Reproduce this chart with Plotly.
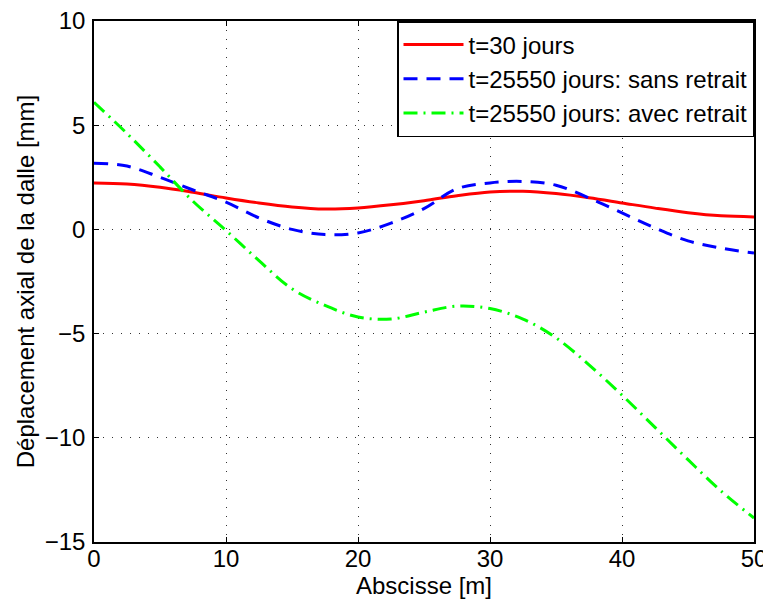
import plotly.graph_objects as go

# abscissa along the slab [m]
abscisse = [0, 2.5, 5, 7.5, 10, 12.5, 15, 17.5, 20, 22.5, 25,
            27.5, 30, 32.5, 35, 37.5, 40, 42.5, 45, 47.5, 50]

# axial displacement [mm]
t30 = [2.23, 2.18, 2.02, 1.78, 1.51, 1.27, 1.08, 0.98, 1.03, 1.18, 1.38,
       1.62, 1.80, 1.83, 1.72, 1.52, 1.27, 1.02, 0.80, 0.65, 0.60]
t25550_sans = [3.18, 3.04, 2.50, 1.89, 1.31, 0.55, 0.00, -0.25, -0.17, 0.30, 1.00,
               1.95, 2.23, 2.30, 2.12, 1.51, 0.79, 0.07, -0.55, -0.90, -1.13]
t25550_avec = [6.10, 4.60, 3.00, 1.35, -0.05, -1.50, -2.85, -3.65, -4.20, -4.30, -3.97,
               -3.68, -3.80, -4.30, -5.20, -6.50, -7.95, -9.50, -11.05, -12.55, -13.85]

x_ticks = [0, 10, 20, 30, 40, 50]
y_ticks = [-15, -10, -5, 0, 5, 10]

font_family = "Liberation Sans, Arial, sans-serif"
fsize = 24

fig = go.Figure()
fig.add_trace(go.Scatter(
    x=abscisse, y=t30, mode="lines", name="t=30 jours",
    line=dict(color="#ff0000", width=3, shape="spline"),
))
fig.add_trace(go.Scatter(
    x=abscisse, y=t25550_sans, mode="lines", name="t=25550 jours: sans retrait",
    line=dict(color="#0000ff", width=3, dash="14px,9px", shape="spline"),
))
fig.add_trace(go.Scatter(
    x=abscisse, y=t25550_avec, mode="lines", name="t=25550 jours: avec retrait",
    line=dict(color="#00ff00", width=3, dash="14px,6px,2px,6px", shape="spline"),
))

axis_style = dict(
    showline=True, linecolor="black", linewidth=1.5, mirror="allticks",
    ticks="inside", ticklen=5, tickcolor="black",
    showgrid=True, gridcolor="#333333", griddash="1px,8px", gridwidth=1,
    zeroline=False, automargin=False, ticklabeloverflow="allow",
    tickfont=dict(size=fsize, color="black", family=font_family),
)

fig.update_xaxes(
    range=[0, 50], tickvals=x_ticks, ticklabelstandoff=-6,
    title=dict(text="Abscisse [m]", font=dict(size=fsize, color="black", family=font_family),
               standoff=0),
    **axis_style,
)
fig.update_yaxes(
    range=[-15, 10], tickvals=y_ticks, ticklabelstandoff=2,
    title=dict(text="Déplacement axial de la dalle [mm]",
               font=dict(size=fsize, color="black", family=font_family), standoff=3),
    **axis_style,
)

# the page body adds an 8px offset, so the figure is 8px smaller than the window
fig.update_layout(
    width=763, height=597,
    margin=dict(l=86, r=17, t=13, b=63),
    paper_bgcolor="white", plot_bgcolor="white",
    font=dict(family=font_family, color="black"),
    legend=dict(
        x=1, y=1, xanchor="right", yanchor="top",
        bgcolor="white", bordercolor="black", borderwidth=1.5,
        font=dict(size=fsize, color="black", family=font_family),
        tracegroupgap=0, itemwidth=60,
    ),
)

fig.write_html("out.html")
